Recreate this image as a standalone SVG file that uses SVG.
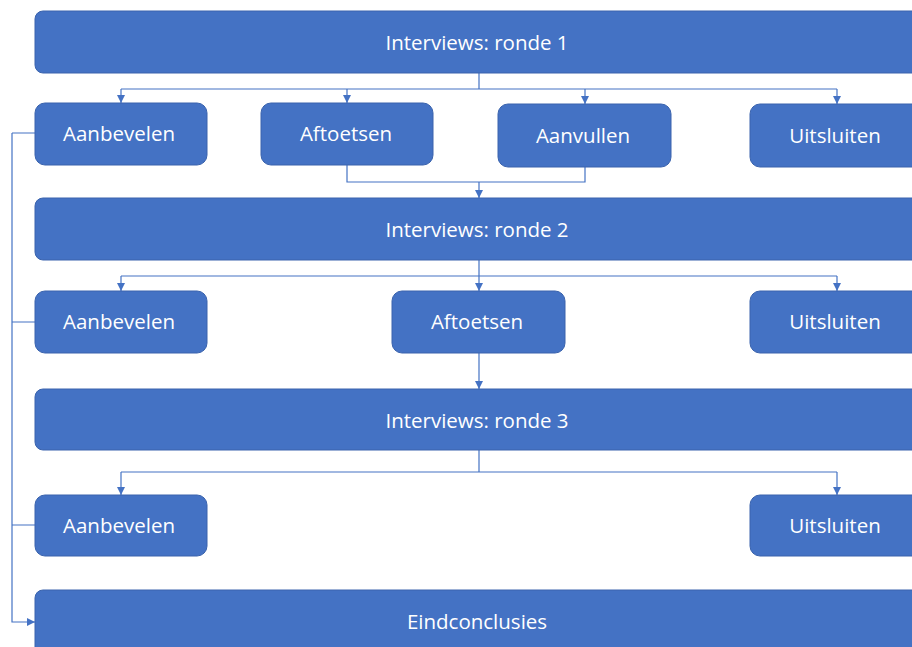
<svg xmlns="http://www.w3.org/2000/svg" width="912" height="647" viewBox="0 0 912 647">
<defs>
<marker id="ah" viewBox="0 0 10 10" refX="10" refY="5" markerWidth="8" markerHeight="8" markerUnits="userSpaceOnUse" orient="auto">
<path d="M0,0 L10,5 L0,10 z" fill="#4472C4"/>
</marker>
<style>
.box{fill:#4472C4;stroke:#3A63AD;stroke-width:1}
.t{fill:#ffffff;font-family:"Open Sans","Liberation Sans",sans-serif;font-size:20.5px;text-anchor:middle;dominant-baseline:central}
.c{fill:none;stroke:#4472C4;stroke-width:1.2}
.a{marker-end:url(#ah)}
</style>
</defs>
<rect width="912" height="647" fill="#ffffff"/>
<g id="connectors">
<path class="c" d="M479,73 V89 M121,89 H837"/>
<path class="c a" d="M121,89 V103"/>
<path class="c a" d="M347,89 V103"/>
<path class="c a" d="M585,89 V104"/>
<path class="c a" d="M837,89 V104"/>
<path class="c" d="M347,165 V182 H585 V167"/>
<path class="c a" d="M479,182 V198"/>
<path class="c" d="M479,260 V276 M121,276 H837"/>
<path class="c a" d="M121,276 V291"/>
<path class="c a" d="M837,276 V291"/>
<path class="c a" d="M479,276 V291"/>
<path class="c a" d="M479,353 V389"/>
<path class="c" d="M479,450 V472 M121,472 H837"/>
<path class="c a" d="M121,472 V495"/>
<path class="c a" d="M837,472 V495"/>
<path class="c" d="M35,133 H12 M35,322 H12 M35,525 H12"/>
<path class="c a" d="M12,133 V622 H35"/>
</g>
<g id="ronde1"><rect class="box" x="35" y="11" width="900" height="62" rx="8"/><text class="t" x="477" y="42">Interviews: ronde 1</text></g>
<g id="aanbevelen1"><rect class="box" x="35" y="103" width="172" height="62" rx="10"/><text class="t" x="119" y="133">Aanbevelen</text></g>
<g id="aftoetsen1"><rect class="box" x="261" y="103" width="172" height="62" rx="10"/><text class="t" x="346" y="133">Aftoetsen</text></g>
<g id="aanvullen1"><rect class="box" x="498" y="104" width="173" height="63" rx="10"/><text class="t" x="583" y="135">Aanvullen</text></g>
<g id="uitsluiten1"><rect class="box" x="750" y="104" width="180" height="63" rx="10"/><text class="t" x="835" y="135">Uitsluiten</text></g>
<g id="ronde2"><rect class="box" x="35" y="198" width="900" height="62" rx="8"/><text class="t" x="477" y="229">Interviews: ronde 2</text></g>
<g id="aanbevelen2"><rect class="box" x="35" y="291" width="172" height="62" rx="10"/><text class="t" x="119" y="321">Aanbevelen</text></g>
<g id="aftoetsen2"><rect class="box" x="392" y="291" width="173" height="62" rx="10"/><text class="t" x="477" y="321">Aftoetsen</text></g>
<g id="uitsluiten2"><rect class="box" x="750" y="291" width="180" height="62" rx="10"/><text class="t" x="835" y="321">Uitsluiten</text></g>
<g id="ronde3"><rect class="box" x="35" y="389" width="900" height="61" rx="8"/><text class="t" x="477" y="420">Interviews: ronde 3</text></g>
<g id="aanbevelen3"><rect class="box" x="35" y="495" width="172" height="61" rx="10"/><text class="t" x="119" y="525">Aanbevelen</text></g>
<g id="uitsluiten3"><rect class="box" x="750" y="495" width="180" height="61" rx="10"/><text class="t" x="835" y="525">Uitsluiten</text></g>
<g id="eindconclusies"><rect class="box" x="35" y="590" width="900" height="80" rx="8"/><text class="t" x="477" y="621">Eindconclusies</text></g>
</svg>
